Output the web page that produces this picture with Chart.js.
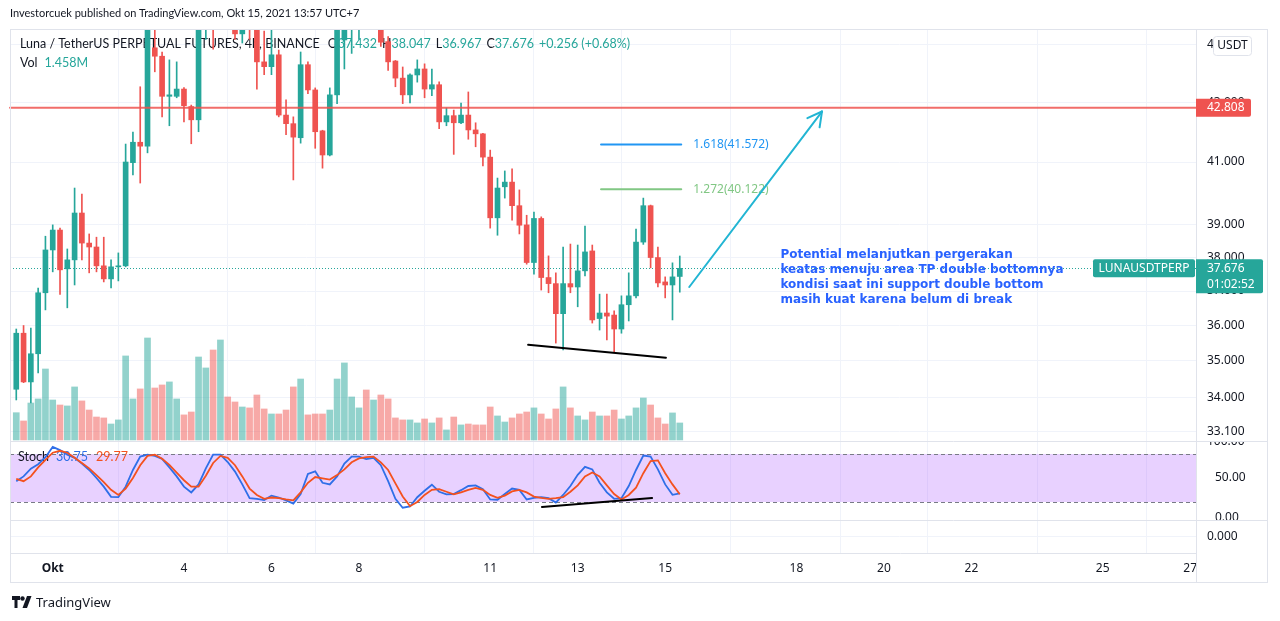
<!DOCTYPE html>
<html lang="id">
<head>
<meta charset="UTF-8">
<title>LUNAUSDTPERP 4h</title>
<script src="https://cdn.jsdelivr.net/npm/chart.js"></script>
<style>
  body { margin: 0; background: #fff; font-family: Lato, sans-serif; color: #131722; }
  #wrap { position: absolute; left: 0; top: 0; width: 1280px; height: 621px; }
  #head { position: absolute; left: 10px; top: 6px; font-size: 11px; }
  #foot { position: absolute; left: 12px; top: 593px; font-size: 13px; font-family: "Noto Sans", sans-serif; display: flex; align-items: center; gap: 4px; }
</style>
</head>
<body>
<div id="wrap"><canvas id="chart"></canvas></div>
<div id="head">Investorcuek published on TradingView.com, Okt 15, 2021 13:57 UTC+7</div>
<div id="foot">
  <svg width="20" height="12" viewBox="0 0 20 12"><path d="M0 0h8v4H5.5v8h-3V4H0z" fill="#131722"/><circle cx="10.5" cy="2.5" r="2.2" fill="#131722"/><path d="M15 0h4.5l-4.5 12h-4.5z" fill="#131722"/></svg>
  <span>TradingView</span>
</div>

<script>
    // 4h candles, LUNA/USDT perp, from Sep 30 to Oct 15 2021
    const opens = [34.22, 35.78, 34.42, 35.20, 36.95, 38.23, 38.84, 37.66, 37.93, 39.37,
        38.44, 38.32, 37.75, 37.36, 37.72, 37.75, 40.98, 41.65, 41.52, 44.90,
        44.60, 43.20, 43.20, 43.45, 42.85, 42.40, 46.00, 46.80, 46.00, 46.60,
        45.70, 45.40, 46.20, 46.00, 44.40, 44.23, 44.65, 42.56, 42.27, 41.80,
        44.30, 43.42, 42.03, 41.23, 43.25, 45.18, 45.90, 46.30, 46.70, 46.20,
        46.30, 45.12, 44.43, 43.83, 43.25, 43.94, 44.15, 43.45, 43.60, 42.33,
        42.54, 42.30, 42.56, 42.06, 41.93, 41.16, 39.22, 40.20, 40.35, 39.60,
        39.00, 37.85, 39.20, 37.40, 37.22, 36.34, 37.22, 37.12, 37.60, 38.20,
        36.20, 36.36, 36.30, 35.90, 36.60, 36.86, 38.47, 39.60, 38.00, 37.27,
        37.18, 37.432];
    const highs = [35.90, 36.00, 35.93, 37.09, 38.65, 39.00, 38.90, 38.26, 40.16, 39.97,
        38.72, 38.62, 38.62, 37.93, 38.14, 41.59, 41.99, 43.53, 46.60, 45.80,
        44.75, 44.47, 44.40, 43.50, 42.90, 46.50, 46.80, 47.20, 47.00, 47.00,
        46.00, 45.90, 46.50, 46.30, 45.50, 45.60, 44.82, 43.08, 42.50, 44.75,
        44.40, 43.49, 42.05, 43.49, 46.20, 46.30, 46.60, 47.00, 47.00, 46.90,
        46.60, 45.30, 44.45, 44.22, 43.98, 44.47, 44.33, 44.15, 43.70, 42.80,
        42.73, 42.97, 43.35, 42.30, 41.95, 41.39, 40.48, 40.71, 40.78, 40.10,
        39.30, 39.40, 39.25, 38.05, 37.54, 38.32, 38.41, 38.38, 38.96, 38.38,
        36.91, 36.91, 36.42, 36.86, 37.54, 38.87, 39.84, 39.62, 38.32, 37.42,
        37.84, 38.047];
    const lows = [33.93, 34.40, 33.85, 34.67, 36.45, 37.57, 36.90, 36.51, 37.18, 37.93,
        37.54, 37.57, 37.27, 37.09, 37.30, 37.72, 40.58, 40.32, 41.30, 44.05,
        42.50, 42.20, 43.15, 42.33, 41.60, 42.00, 45.20, 44.85, 45.70, 45.80,
        45.20, 45.07, 45.20, 43.45, 43.95, 43.95, 42.50, 41.90, 40.42, 41.62,
        43.29, 41.45, 40.80, 41.20, 42.95, 44.15, 44.70, 45.20, 45.80, 45.80,
        44.95, 44.10, 43.53, 42.95, 42.97, 43.69, 43.15, 43.22, 42.10, 42.20,
        41.25, 42.27, 41.75, 41.50, 40.87, 38.90, 38.68, 39.84, 39.15, 38.72,
        37.80, 37.50, 37.03, 36.95, 35.50, 35.31, 36.95, 36.54, 37.45, 36.07,
        35.87, 35.59, 35.23, 35.78, 36.13, 36.80, 38.40, 37.69, 37.12, 36.80,
        36.16, 36.967];
    const closes = [35.78, 34.42, 35.20, 36.95, 38.23, 38.84, 37.63, 37.93, 39.37, 38.44,
        38.32, 37.75, 37.36, 37.72, 37.75, 41.00, 41.65, 41.52, 46.00, 44.60,
        43.20, 43.25, 43.45, 42.88, 42.40, 46.00, 46.50, 46.00, 46.60, 46.00,
        45.40, 45.70, 45.90, 44.40, 44.23, 44.65, 42.56, 42.27, 41.82, 44.30,
        43.42, 42.00, 41.23, 43.25, 45.80, 45.90, 46.30, 46.70, 46.20, 46.50,
        45.10, 44.40, 43.83, 43.25, 43.94, 44.15, 43.45, 43.60, 42.33, 42.54,
        42.30, 42.56, 42.06, 41.93, 41.16, 39.22, 40.16, 40.35, 39.60, 38.99,
        37.85, 39.20, 37.40, 37.22, 36.34, 37.22, 37.12, 37.60, 38.17, 36.16,
        36.36, 36.27, 35.90, 36.60, 36.86, 38.47, 39.60, 38.00, 37.24, 37.18,
        37.42, 37.676];
    // volume in millions
    const volumes = [2.34, 1.63, 3.17, 3.52, 6.09, 3.43, 3.00, 2.92, 4.55, 3.35,
        2.57, 1.97, 1.89, 1.37, 1.72, 7.21, 3.52, 4.38, 8.75, 4.46,
        4.72, 4.98, 3.52, 2.15, 2.40, 7.12, 6.18, 7.72, 8.58, 3.69,
        3.26, 2.83, 2.75, 3.86, 2.66, 2.23, 2.23, 2.57, 4.55, 5.23,
        2.15, 2.23, 2.23, 2.57, 5.23, 6.61, 3.69, 2.75, 4.29, 3.43,
        3.86, 3.52, 1.89, 1.72, 1.72, 1.46, 1.80, 1.46, 1.89, 0.86,
        1.97, 1.29, 1.37, 1.29, 1.29, 2.83, 2.06, 1.54, 1.89, 2.23,
        2.40, 2.75, 2.23, 1.80, 2.66, 4.55, 2.75, 2.06, 1.72, 2.40,
        2.06, 2.06, 2.57, 1.80, 2.06, 2.75, 3.60, 3.00, 1.89, 1.37,
        2.32, 1.458];
    const stochK = [46, 52, 61.6, 67.2, 76, 88.8, 84.8, 79.2, 75.2, 68,
        60, 50, 39.2, 26.4, 26, 39.2, 60, 76.8, 79.2, 77.6,
        74, 63.2, 52, 39.2, 32, 42, 62, 79.2, 79.2, 70,
        58, 42, 24.8, 24, 22.4, 28, 25.6, 22, 18, 30,
        55.2, 58.4, 44, 42, 52, 68, 76.8, 76.8, 73.6, 75.2,
        66, 46, 24, 12.8, 14.4, 26, 34, 41.6, 32.8, 29.6,
        30, 34.8, 40, 40.8, 36, 23.2, 22.8, 30, 36.8, 35.2,
        23.2, 25.2, 26, 24.8, 19.2, 28.8, 40, 54, 64, 60.8,
        44, 32, 24, 24.8, 40, 60, 78, 76.8, 60.8, 42,
        29, 30.75];
    const stochD = [48.8, 46, 52, 63.2, 72.8, 81.6, 84, 81.6, 75.2, 68.8,
        62, 53.6, 44.8, 35.2, 28.8, 36.8, 50, 66, 77.6, 79.2,
        74, 66.4, 56.8, 47.2, 39.2, 39.2, 52.8, 68.8, 77.6, 75.2,
        66, 52, 36.8, 28.8, 24, 25.6, 24.8, 23.2, 22, 32,
        44, 51.2, 49.6, 48, 53.6, 60.8, 69.6, 74.4, 76, 76.8,
        69.6, 60, 43.2, 26.8, 14.8, 20, 28.8, 35.2, 36, 32.8,
        29.6, 32, 35.2, 37.6, 35.2, 28.8, 25.2, 28, 33.2, 35.2,
        32, 26.8, 25.2, 24, 24.8, 26, 32.8, 40.8, 52, 56.8,
        52, 40.8, 30, 23.2, 28.8, 38, 56, 71.2, 72, 56,
        42, 29.77];

    // time axis: bar index of the first bar of each labelled day
    const dayLabels = ['Okt', '4', '6', '8', '11', '13', '15', '18', '20', '22', '25', '27'];
    const dayBars = [5, 23, 35, 47, 65, 77, 89, 107, 119, 131, 149, 161];
    const priceTicks = [33.1, 34, 35, 36, 37, 38, 39, 41, 43, 45];
    const stochTicks = [0, 50];
    const stochTop = 100;
    const stochBand = [20, 80];

    // drawings on the chart: [bar index, price]
    const resistance = 42.808;
    const fibs = [['1.618', 41.572, '#2196f3'], ['1.272', 40.122, '#81c784']];
    const fibFrom = 80.2, fibTo = 91.2;
    const bottomLine = [[70.2, 35.45], [89.1, 35.09]];
    const arrow = [[92.3, 37.12], [110.5, 42.68]];
    const stochLine = [[72.1, 13.75], [87.2, 25]];
    const noteAt = [104.8, 38.08];
    const note = ['Potential melanjutkan pergerakan',
        'keatas menuju area TP double bottomnya',
        'kondisi saat ini support double bottom',
        'masih kuat karena belum di break'];
    const countdown = '01:02:52';

    const GREEN = '#26a69a', RED = '#ef5350', DARK = '#131722';
    const FONT = '"Noto Sans", sans-serif';
    const LEGEND_FONT = 'Lato, sans-serif';
    const last = closes.length - 1;
    const up = closes.map((c, i) => c >= opens[i]);

    Chart.defaults.font.family = FONT;
    Chart.defaults.font.size = 12;
    Chart.defaults.color = DARK;

    function seg(ctx, x1, y1, x2, y2) {
        ctx.beginPath();
        ctx.moveTo(x1, y1);
        ctx.lineTo(x2, y2);
        ctx.stroke();
    }

    function runs(ctx, x, y, parts) {
        parts.forEach(([t, c, gap]) => {
            ctx.fillStyle = c;
            ctx.fillText(t, x, y);
            x += ctx.measureText(t).width + (gap || 0);
        });
    }

    const decor = {
        id: 'decor',
        beforeDatasetsDraw(chart) {
            const {ctx, chartArea: a, scales: {price, stoch}} = chart;
            ctx.save();
            const yTop = stoch.getPixelForValue(stochBand[1]);
            const yBot = stoch.getPixelForValue(stochBand[0]);
            ctx.fillStyle = 'rgba(178,102,255,0.3)';
            ctx.fillRect(a.left, yTop, a.right - a.left, yBot - yTop);
            ctx.strokeStyle = '#787b86';
            ctx.lineWidth = 1;
            ctx.setLineDash([4, 3]);
            [yTop, yBot].forEach(y => seg(ctx, a.left, Math.round(y) + 0.5, a.right, Math.round(y) + 0.5));

            const yp = Math.round(price.getPixelForValue(closes[last])) + 0.5;
            ctx.strokeStyle = GREEN;
            ctx.setLineDash([1, 2]);
            seg(ctx, a.left, yp, a.right, yp);
            ctx.setLineDash([]);

            ctx.font = '12.5px ' + LEGEND_FONT;
            ctx.textBaseline = 'middle';
            const chg = closes[last] - closes[last - 1];
            runs(ctx, 20, 44, [
                ['Luna / TetherUS PERPETUAL FUTURES, 4h, BINANCE', DARK, 8],
                ['O', DARK], [opens[last].toFixed(3), GREEN, 5],
                ['H', DARK], [highs[last].toFixed(3), GREEN, 5],
                ['L', DARK], [lows[last].toFixed(3), GREEN, 5],
                ['C', DARK], [closes[last].toFixed(3), GREEN, 5],
                ['+' + chg.toFixed(3) + ' (+' + (chg / closes[last - 1] * 100).toFixed(2) + '%)', GREEN]
            ]);
            runs(ctx, 20, 63, [['Vol', DARK, 7], [volumes[last].toFixed(3) + 'M', GREEN]]);
            runs(ctx, 18, 457, [['Stoch', DARK, 7], [stochK[last].toFixed(2), '#2f6fe8', 8],
                [stochD[last].toFixed(2), '#f4511e']]);
            ctx.restore();
        },
        afterDatasetsDraw(chart) {
            const {ctx, chartArea: a, scales: {x, price, stoch}} = chart;
            const px = (p) => [x.getPixelForValue(p[0]), price.getPixelForValue(p[1])];
            ctx.save();
            ctx.lineCap = 'round';

            ctx.strokeStyle = 'rgba(239,83,80,0.85)';
            ctx.lineWidth = 2;
            const yr = price.getPixelForValue(resistance);
            seg(ctx, a.left, yr, a.right, yr);

            ctx.font = '12px ' + FONT;
            ctx.textBaseline = 'middle';
            fibs.forEach(([ratio, p, color]) => {
                const y = price.getPixelForValue(p);
                ctx.strokeStyle = color;
                seg(ctx, x.getPixelForValue(fibFrom), y, x.getPixelForValue(fibTo), y);
                ctx.fillStyle = color;
                ctx.fillText(ratio + '(' + p.toFixed(3) + ')', x.getPixelForValue(fibTo) + 12, y);
            });

            ctx.strokeStyle = '#000';
            ctx.lineWidth = 2;
            seg(ctx, ...px(bottomLine[0]), ...px(bottomLine[1]));
            const s0 = [x.getPixelForValue(stochLine[0][0]), stoch.getPixelForValue(stochLine[0][1])];
            const s1 = [x.getPixelForValue(stochLine[1][0]), stoch.getPixelForValue(stochLine[1][1])];
            seg(ctx, ...s0, ...s1);

            const [ax, ay] = px(arrow[0]);
            const [bx, by] = px(arrow[1]);
            ctx.strokeStyle = '#22b5d3';
            seg(ctx, ax, ay, bx, by);
            const ang = Math.atan2(by - ay, bx - ax);
            [-0.5, 0.5].forEach(d => seg(ctx, bx, by, bx - 16 * Math.cos(ang + d), by - 16 * Math.sin(ang + d)));

            ctx.font = 'bold 12px "DejaVu Sans", sans-serif';
            ctx.fillStyle = '#2962ff';
            const [nx, ny] = px(noteAt);
            note.forEach((t, i) => ctx.fillText(t, nx, ny + i * 15));
            ctx.restore();
        },
        afterDraw(chart) {
            const {ctx, chartArea: a, scales: {price, stoch, pane3}} = chart;
            ctx.save();
            ctx.font = '12px ' + FONT;
            ctx.textBaseline = 'middle';

            // top stoch label, cut by the pane edge
            ctx.save();
            ctx.beginPath();
            ctx.rect(a.right + 1, stoch.top, 72, stoch.bottom - stoch.top);
            ctx.clip();
            ctx.fillStyle = DARK;
            ctx.fillText(stochTop.toFixed(2), a.right + 11, stoch.getPixelForValue(stochTop) + 4);
            ctx.restore();

            ctx.strokeStyle = '#e0e3eb';
            ctx.lineWidth = 1;
            [stoch.top, pane3.top].forEach(y => seg(ctx, a.left, Math.round(y) + 0.5, 1268, Math.round(y) + 0.5));
            seg(ctx, a.right + 0.5, 29, a.right + 0.5, 583);
            ctx.strokeRect(10.5, 29.5, 1257, 553);

            ctx.fillStyle = '#fff';
            ctx.beginPath();
            ctx.roundRect(1213.5, 36.5, 38, 19, 3);
            ctx.fill();
            ctx.stroke();
            ctx.fillStyle = DARK;
            ctx.textAlign = 'center';
            ctx.fillText('USDT', 1232.5, 46);

            const yr = price.getPixelForValue(resistance);
            ctx.fillStyle = RED;
            ctx.beginPath();
            ctx.roundRect(a.right, yr - 9, 55, 18, [0, 2, 2, 0]);
            ctx.fill();
            ctx.fillStyle = '#fff';
            ctx.textAlign = 'left';
            ctx.fillText(resistance.toFixed(3), a.right + 11, yr);

            const yp = price.getPixelForValue(closes[last]);
            ctx.fillStyle = GREEN;
            ctx.beginPath();
            ctx.roundRect(a.right, yp - 9, 67, 34, [0, 2, 2, 0]);
            ctx.fill();
            ctx.beginPath();
            ctx.roundRect(1093, yp - 9, 102, 18, 2);
            ctx.fill();
            ctx.fillStyle = '#fff';
            ctx.fillText(closes[last].toFixed(3), a.right + 11, yp);
            ctx.fillText(countdown, a.right + 11, yp + 16);
            ctx.textAlign = 'center';
            ctx.fillText('LUNAUSDTPERP', 1144, yp);
            ctx.restore();
        }
    };

    const fixW = (s) => { s.width = 72; };

    new Chart(document.getElementById('chart'), {
        type: 'bar',
        data: {
            datasets: [
                {
                    type: 'line', yAxisID: 'stoch', order: 0,
                    data: stochD.map((v, i) => ({x: i, y: v})),
                    borderColor: '#f4511e', borderWidth: 1.8, pointRadius: 0
                },
                {
                    type: 'line', yAxisID: 'stoch', order: 0,
                    data: stochK.map((v, i) => ({x: i, y: v})),
                    borderColor: '#2f6fe8', borderWidth: 1.8, pointRadius: 0
                },
                {
                    yAxisID: 'price', order: 1, grouped: false, clip: 0,
                    data: opens.map((o, i) => ({x: i, y: [o, closes[i]]})),
                    backgroundColor: up.map(u => u ? GREEN : RED),
                    barThickness: 5, minBarLength: 1
                },
                {
                    yAxisID: 'price', order: 2, grouped: false, clip: 0,
                    data: lows.map((l, i) => ({x: i, y: [l, highs[i]]})),
                    backgroundColor: up.map(u => u ? GREEN : RED),
                    barThickness: 1
                },
                {
                    yAxisID: 'vol', order: 3, grouped: false, clip: 0,
                    data: volumes.map((v, i) => ({x: i, y: v})),
                    backgroundColor: up.map(u => u ? 'rgba(38,166,154,0.5)' : 'rgba(239,83,80,0.5)'),
                    barThickness: 6
                }
            ]
        },
        options: {
            responsive: true,
            maintainAspectRatio: false,
            animation: false,
            layout: {padding: {left: 10, top: 30, right: 12, bottom: 38}},
            plugins: {legend: {display: false}, tooltip: {enabled: false}},
            scales: {
                x: {
                    type: 'linear', min: -0.86, max: 161.8, offset: false,
                    afterBuildTicks: (s) => { s.ticks = dayBars.map(v => ({value: v})); },
                    afterFit: (s) => { s.height = 30; },
                    ticks: {
                        autoSkip: false, maxRotation: 0, padding: 8,
                        callback: (v, i) => dayLabels[i],
                        font: (c) => ({family: FONT, size: 12, weight: c.index === 0 ? 'bold' : 'normal'})
                    },
                    grid: {color: '#f0f3fa', drawTicks: false},
                    border: {color: '#e0e3eb'}
                },
                price: {
                    type: 'logarithmic', position: 'right', stack: 'panes', stackWeight: 411,
                    min: 32.84, max: 45.54,
                    afterBuildTicks: (s) => { s.ticks = priceTicks.map(v => ({value: v})); },
                    afterFit: fixW,
                    ticks: {autoSkip: false, padding: 11, callback: (v) => Number(v).toFixed(3)},
                    grid: {color: '#f0f3fa', drawTicks: false},
                    border: {color: '#e0e3eb'}
                },
                stoch: {
                    type: 'linear', position: 'right', stack: 'panes', stackWeight: 79,
                    min: -2.5, max: 96.25,
                    afterBuildTicks: (s) => { s.ticks = stochTicks.map(v => ({value: v})); },
                    afterFit: fixW,
                    ticks: {autoSkip: false, padding: 11, callback: (v) => Number(v).toFixed(2)},
                    grid: {display: false},
                    border: {color: '#e0e3eb'}
                },
                pane3: {
                    type: 'linear', position: 'right', stack: 'panes', stackWeight: 33,
                    min: -1, max: 1,
                    afterBuildTicks: (s) => { s.ticks = [{value: 0}]; },
                    afterFit: fixW,
                    ticks: {padding: 11, callback: (v) => Number(v).toFixed(3)},
                    grid: {color: '#f0f3fa', drawTicks: false},
                    border: {color: '#e0e3eb'}
                },
                vol: {
                    type: 'linear', position: 'left', display: false,
                    min: -9.70, max: 35.18
                }
            }
        },
        plugins: [decor]
    });
</script>
</body>
</html>
